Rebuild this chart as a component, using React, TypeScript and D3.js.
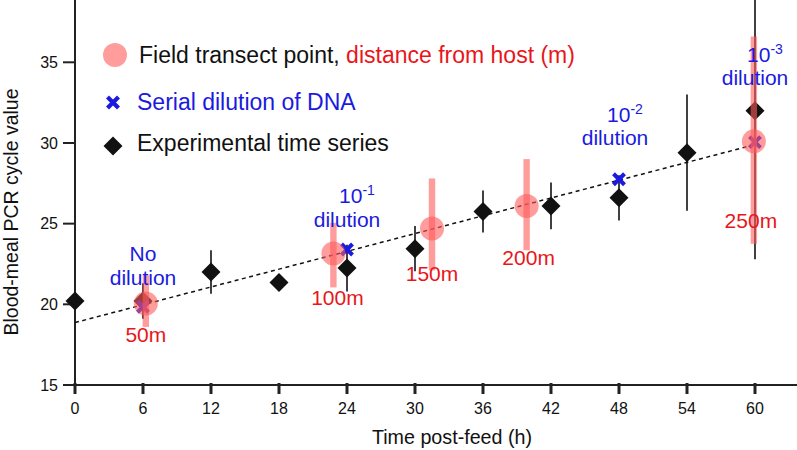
import React from "react";
import * as d3 from "d3";

// ---------- data ----------
const timeTicks = [0, 6, 12, 18, 24, 30, 36, 42, 48, 54, 60];
const valueTicks = [15, 20, 25, 30, 35];

// Experimental time series (black diamonds) with error bars
const expTime = [0, 6, 12, 18, 24, 30, 36, 42, 48, 54, 60];
const expMean = [20.2, 20.2, 22.0, 21.35, 22.25, 23.45, 25.75, 26.1, 26.6, 29.4, 32.0];
const expErr = [0, 1.1, 1.35, 0, 1.45, 1.4, 1.3, 1.45, 1.4, 3.6, 9.2];

// Field transect points (pink circles) with range bars
const fieldLabel = ["50m", "100m", "150m", "200m", "250m"];
const fieldTime = [6.25, 22.8, 31.5, 39.85, 59.9];
const fieldMean = [20.05, 23.15, 24.7, 26.1, 30.1];
const fieldLow = [18.6, 21.05, 22.1, 23.35, 23.75];
const fieldHigh = [21.8, 25.05, 27.8, 29.0, 36.6];

// Serial dilution of DNA (blue crosses)
const dilutionTime = [6, 24, 48, 60];
const dilutionValue = [19.85, 23.4, 27.75, 30.05];
const dilutionExp = [null, "-1", "-2", "-3"];

// Regression (dashed) line
const trendTime = [0, 60];
const trendValue = [18.87, 29.9];

// ---------- layout ----------
const W = 797;
const H = 450;
const FONT = "'Liberation Sans', Arial, Helvetica, sans-serif";
const PINK = "#ff5a5a";
const PINK_OP = 0.6;
const BLUE = "#1a1ae0";
const RED = "#e8161b";
const AXIS = "#222";

// label offsets (pixels) for annotations
const dilLabelOffset = [
  { dx: 0, dy1: -46, dy2: -22 },
  { dx: 0, dy1: -46, dy2: -22 },
  { dx: -4, dy1: -57, dy2: -34 },
  { dx: 0, dy1: -80, dy2: -57 },
];
const fieldLabelOffset = [
  { dx: 0, dy: 38 },
  { dx: 4, dy: 52 },
  { dx: 0, dy: 53 },
  { dx: 2, dy: 59 },
  { dx: -3, dy: 87 },
];

export default function App() {
  const x = d3.scaleLinear().domain([0, 60]).range([75, 755]);
  const y = d3.scaleLinear().domain([15, 35]).range([385, 62.3]);

  const trendLine = d3
    .line<number>()
    .x((_, i) => x(trendTime[i]))
    .y((d) => y(d))(trendValue);

  const diamond = (cx: number, cy: number, r: number) =>
    `M${cx},${cy - r}L${cx + r},${cy}L${cx},${cy + r}L${cx - r},${cy}Z`;
  const cross = (cx: number, cy: number, r: number) =>
    `M${cx - r},${cy - r}L${cx + r},${cy + r}M${cx - r},${cy + r}L${cx + r},${cy - r}`;

  return (
    <svg
      width={W}
      height={H}
      viewBox={`0 0 ${W} ${H}`}
      style={{ position: "absolute", left: 0, top: 0, background: "#fff" }}
      fontFamily={FONT}
    >
      {/* axes */}
      <line x1={75} x2={75} y1={0} y2={386} stroke={AXIS} strokeWidth={2} />
      <line x1={63} x2={W} y1={385} y2={385} stroke={AXIS} strokeWidth={2} />
      {valueTicks.map((v) => (
        <g key={"yt" + v}>
          <line x1={63} x2={75} y1={y(v)} y2={y(v)} stroke={AXIS} strokeWidth={2} />
          <text x={58} y={y(v)} dy="0.36em" textAnchor="end" fontSize={16} fill="#111">
            {v}
          </text>
        </g>
      ))}
      {timeTicks.map((t) => (
        <g key={"xt" + t}>
          <line x1={x(t)} x2={x(t)} y1={383} y2={394} stroke={AXIS} strokeWidth={3} />
          <text x={x(t)} y={414} textAnchor="middle" fontSize={16} fill="#111">
            {t}
          </text>
        </g>
      ))}
      <text x={452} y={444} textAnchor="middle" fontSize={19.7} fill="#111">
        Time post-feed (h)
      </text>
      <text
        transform={`translate(18,212) rotate(-90)`}
        textAnchor="middle"
        fontSize={19.5}
        fill="#111"
      >
        Blood-meal PCR cycle value
      </text>

      {/* trend line */}
      <path d={trendLine || ""} fill="none" stroke="#111" strokeWidth={1.5} strokeDasharray="4,3.5" />

      {/* experimental error bars + diamonds */}
      {expTime.map((t, i) =>
        expErr[i] > 0 ? (
          <line
            key={"ee" + i}
            x1={x(t)}
            x2={x(t)}
            y1={Math.max(0, y(expMean[i] + expErr[i]))}
            y2={y(expMean[i] - expErr[i])}
            stroke="#111"
            strokeWidth={1.6}
          />
        ) : null
      )}
      {expTime.map((t, i) => (
        <path key={"ed" + i} d={diamond(x(t), y(expMean[i]), 9.5)} fill="#111" />
      ))}

      {/* dilution crosses */}
      {dilutionTime.map((t, i) => (
        <path
          key={"dx" + i}
          d={cross(x(t), y(dilutionValue[i]), 5.5)}
          stroke={BLUE}
          strokeWidth={4}
          fill="none"
        />
      ))}

      {/* field transect bars + circles */}
      {fieldTime.map((t, i) => (
        <g key={"f" + i} opacity={PINK_OP}>
          <rect
            x={x(t) - 3.2}
            width={6.4}
            y={y(fieldHigh[i])}
            height={y(fieldLow[i]) - y(fieldHigh[i])}
            fill={PINK}
          />
        </g>
      ))}
      {fieldTime.map((t, i) => (
        <circle key={"fc" + i} cx={x(t)} cy={y(fieldMean[i])} r={12} fill={PINK} opacity={PINK_OP} />
      ))}

      {/* dilution labels */}
      {dilutionTime.map((t, i) => {
        const cx = x(t) + dilLabelOffset[i].dx;
        const cy = y(dilutionValue[i]);
        const e = dilutionExp[i];
        return (
          <g key={"dl" + i} fill={BLUE} fontSize={21} textAnchor="middle">
            {e === null ? (
              <text x={cx} y={cy + dilLabelOffset[i].dy1}>No</text>
            ) : (
              <text x={cx + 10} y={cy + dilLabelOffset[i].dy1}>
                <tspan>10</tspan>
                <tspan dy={-8} fontSize={14}>{e}</tspan>
              </text>
            )}
            <text x={cx} y={cy + dilLabelOffset[i].dy2}>dilution</text>
          </g>
        );
      })}

      {/* field distance labels */}
      {fieldTime.map((t, i) => (
        <text
          key={"fl" + i}
          x={x(t) + fieldLabelOffset[i].dx}
          y={y(fieldMean[i]) + fieldLabelOffset[i].dy}
          textAnchor="middle"
          fontSize={21}
          fill={RED}
        >
          {fieldLabel[i]}
        </text>
      ))}

      {/* legend */}
      <circle cx={115} cy={55} r={12} fill={PINK} opacity={PINK_OP} />
      <text x={139} y={62.5} fontSize={23} fill="#111">
        Field transect point, <tspan fill={RED}>distance from host (m)</tspan>
      </text>
      <path d={cross(113, 102.5, 5.5)} stroke={BLUE} strokeWidth={4.2} fill="none" />
      <text x={137} y={109.5} fontSize={23} fill={BLUE}>
        Serial dilution of DNA
      </text>
      <path d={diamond(113, 146, 9.5)} fill="#111" />
      <text x={137} y={151} fontSize={23} fill="#111">
        Experimental time series
      </text>
    </svg>
  );
}
